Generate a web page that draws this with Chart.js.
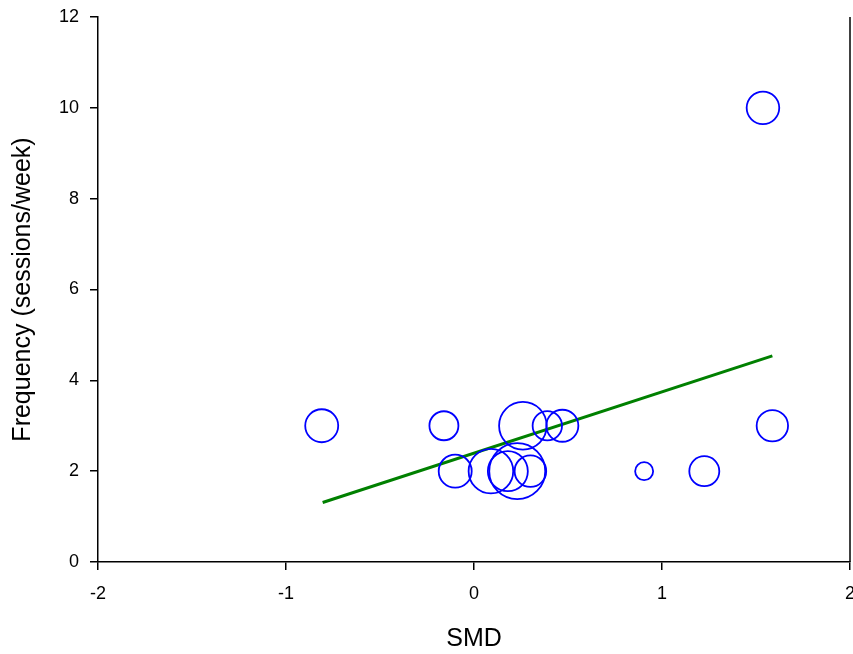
<!DOCTYPE html>
<html>
<head>
<meta charset="utf-8">
<title>SMD vs Frequency</title>
<script src="https://cdn.jsdelivr.net/npm/chart.js@4/dist/chart.umd.min.js"></script>
<style>
    html, body { margin: 0; padding: 0; background: #fff; }
    #wrap { width: 853px; height: 654px; }
</style>
</head>
<body>
<div id="wrap"><canvas id="bubbleChart" width="853" height="654"></canvas></div>
<script>
// Study effect sizes (SMD), training frequency and bubble radius (weight)
const smd = [-0.81, -0.16, 0.26, 0.39, 0.47, -0.10, 0.09, 0.18, 0.23, 0.30, 0.905, 1.225, 1.587, 1.537];
const frequency = [3, 3, 3, 3, 3, 2, 2, 2, 2, 2, 2, 2, 3, 10];
const weights = [16.5, 14.5, 23.8, 14.7, 16, 16.5, 22.3, 20, 28, 15.8, 9, 15, 15.7, 16.3];

// Meta-regression line end points
const fitX = [-0.805, 1.587];
const fitY = [1.31, 4.54];

const xTicks = [-2, -1, 0, 1, 2];
const yTicks = [0, 2, 4, 6, 8, 10, 12];

document.addEventListener("DOMContentLoaded", function () {
    const bubbles = smd.map((x, i) => ({ x: x, y: frequency[i], r: weights[i] }));
    const fitLine = fitX.map((x, i) => ({ x: x, y: fitY[i] }));

    // draw the right-hand frame line
    const rightBorder = {
        id: "rightBorder",
        afterDraw(chart) {
            const { ctx, chartArea } = chart;
            ctx.save();
            ctx.strokeStyle = "#000";
            ctx.lineWidth = 1.5;
            ctx.beginPath();
            ctx.moveTo(chartArea.right, chartArea.top);
            ctx.lineTo(chartArea.right, chartArea.bottom);
            ctx.stroke();
            ctx.restore();
        }
    };

    const tickFont = { family: "'Liberation Sans', Arial, sans-serif", size: 18 };
    const titleFont = { family: "'Liberation Sans', Arial, sans-serif", size: 25 };

    new Chart(document.getElementById("bubbleChart"), {
        type: "bubble",
        data: {
            datasets: [
                {
                    label: "Studies",
                    data: bubbles,
                    backgroundColor: "rgba(0,0,0,0)",
                    borderColor: "#0000ff",
                    borderWidth: 1.8
                },
                {
                    type: "line",
                    label: "Fit",
                    data: fitLine,
                    borderColor: "#008000",
                    borderWidth: 3,
                    pointRadius: 0,
                    fill: false
                }
            ]
        },
        options: {
            responsive: false,
            animation: false,
            events: [],
            layout: { autoPadding: false, padding: { left: 0, right: 3, top: 17, bottom: 0 } },
            plugins: {
                legend: { display: false },
                tooltip: { enabled: false }
            },
            scales: {
                x: {
                    type: "linear",
                    min: -2,
                    max: 2,
                    afterFit: scale => {
                        scale.height = 92;
                        scale.paddingLeft = 0;
                        scale.paddingRight = 0;
                    },
                    afterBuildTicks: scale => { scale.ticks = xTicks.map(v => ({ value: v })); },
                    grid: { drawOnChartArea: false, drawTicks: true, tickLength: 8, color: "#000", lineWidth: 1.5 },
                    border: { color: "#000", width: 1.5 },
                    ticks: { color: "#000", font: tickFont, padding: 13, maxRotation: 0 },
                    title: { display: true, text: "SMD", color: "#000", font: titleFont, padding: { top: 0, bottom: 0 } }
                },
                y: {
                    type: "linear",
                    min: 0,
                    max: 12,
                    afterFit: scale => {
                        scale.width = 98;
                        scale.paddingTop = 0;
                        scale.paddingBottom = 0;
                    },
                    afterBuildTicks: scale => { scale.ticks = yTicks.map(v => ({ value: v })); },
                    grid: { drawOnChartArea: false, drawTicks: true, tickLength: 8, color: "#000", lineWidth: 1.5 },
                    border: { color: "#000", width: 1.5 },
                    ticks: { color: "#000", font: tickFont, padding: 11 },
                    title: { display: true, text: "Frequency (sessions/week)", color: "#000", font: titleFont, padding: { top: 8, bottom: 0 } }
                }
            }
        },
        plugins: [rightBorder]
    });
});
</script>
</body>
</html>
